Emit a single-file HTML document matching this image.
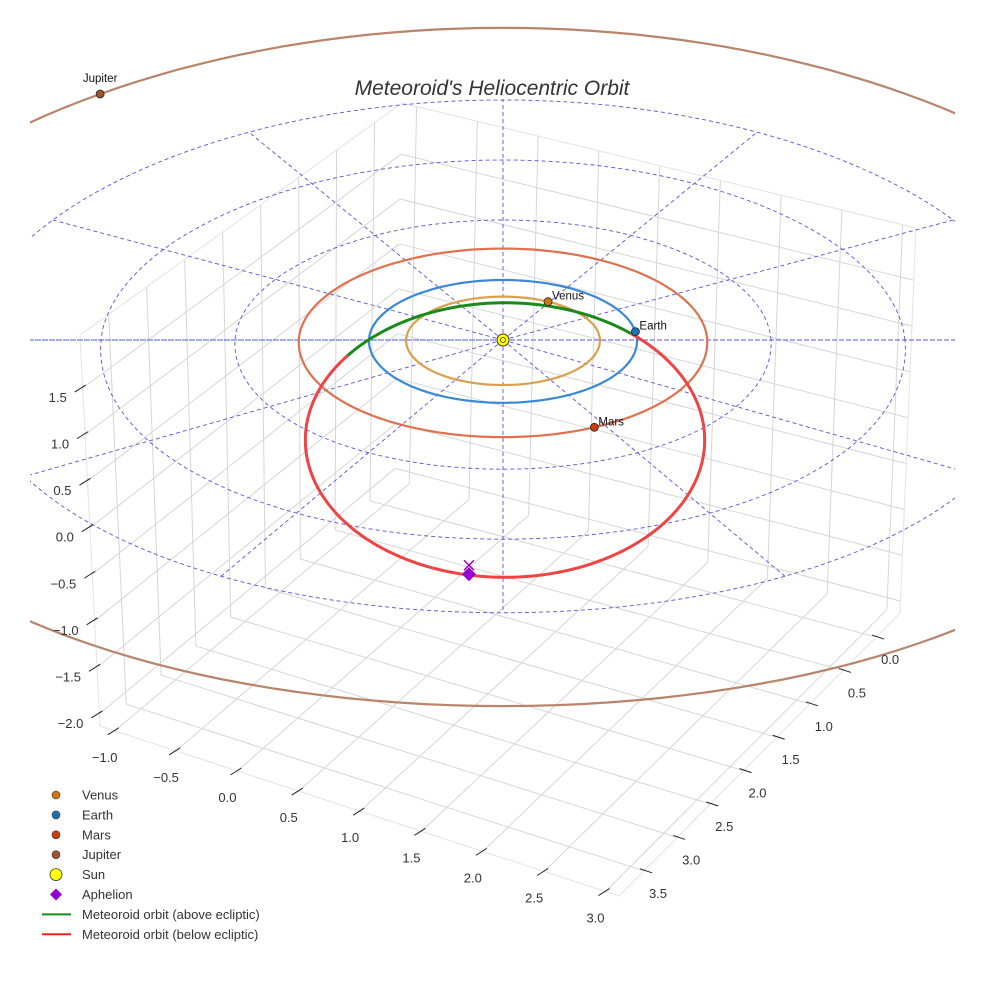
<!DOCTYPE html>
<html><head><meta charset="utf-8"><title>Meteoroid's Heliocentric Orbit</title>
<style>
html,body{margin:0;padding:0;background:#fff;}
svg{display:block;font-family:"Liberation Sans",sans-serif;}
</style></head>
<body>
<svg id="chart" width="984" height="984" viewBox="0 0 984 984" xmlns="http://www.w3.org/2000/svg">
<defs><clipPath id="clipArea"><rect x="30" y="18" width="925" height="930"/></clipPath></defs>
<g id="box"></g>
<g id="plane" clip-path="url(#clipArea)"></g>
<g id="orbits"></g>
<g id="ticks"></g>
<text x="492" y="95" text-anchor="middle" font-size="21" font-style="italic" fill="#333">Meteoroid's Heliocentric Orbit</text>
<g id="legend"></g>
</svg>
<script>
// ---- data ----
const xTicks = [-1.0, -0.5, 0.0, 0.5, 1.0, 1.5, 2.0, 2.5, 3.0];
const yTicks = [0.0, 0.5, 1.0, 1.5, 2.0, 2.5, 3.0, 3.5];
const zTicks = [-2.0, -1.5, -1.0, -0.5, 0.0, 0.5, 1.0, 1.5];
const xRange = [-1.12, 3.11];
const yRange = [-0.36, 3.877];
const zRange = [-2.13, 2.07];
const planetNames = ["Venus", "Earth", "Mars", "Jupiter"];
const planetRadii = [0.723, 1.0, 1.524, 5.203];
const planetAngles = [62, 8, -64, 128];
const planetColors = ["#cc7711", "#1f6fb4", "#c8400e", "#a0522d"];
const orbitColors = ["#d9a04e", "#3a88d8", "#e0714e", "#b8846a"];
const ringRadii = [1, 2, 3, 4];
const spokeAngles = [0, 30, 60, 90, 120, 150, 180, 210, 240, 270, 300, 330];
const meteoroidCenter = [0.015, -1.64];
const meteoroidAxes = [1.49, 2.25];
const nodeAngles = [51, 142];
const aphelion = [-0.254, -3.84];

const NS = "http://www.w3.org/2000/svg";
function mk(parent, tag, attrs){const e=document.createElementNS(NS,tag);for(const k in attrs)e.setAttribute(k,attrs[k]);parent.appendChild(e);return e;}
function lerp(a,b,t){return [a[0]+(b[0]-a[0])*t,a[1]+(b[1]-a[1])*t];}

// ---- box geometry (screen corners) ----
const Bb=[395,480], Lb=[100,726], Fb=[619,896], Rb=[900,613];
const Bt=[402,103], Lt=[80,335], Rt=[916,228];
function floorPt(x,y){const u=(x-xRange[0])/(xRange[1]-xRange[0]), v=(y-yRange[0])/(yRange[1]-yRange[0]);
  return [Bb[0]*(1-u)*(1-v)+Rb[0]*u*(1-v)+Lb[0]*(1-u)*v+Fb[0]*u*v, Bb[1]*(1-u)*(1-v)+Rb[1]*u*(1-v)+Lb[1]*(1-u)*v+Fb[1]*u*v];}
function zt(z){return (z-zRange[0])/(zRange[1]-zRange[0]);}
function leftPane(y,z){const s=(y-yRange[0])/(yRange[1]-yRange[0]);return lerp(lerp(Bb,Lb,s),lerp(Bt,Lt,s),zt(z));}
function rightPane(x,z){const s=(x-xRange[0])/(xRange[1]-xRange[0]);return lerp(lerp(Bb,Rb,s),lerp(Bt,Rt,s),zt(z));}

const box=document.getElementById('box');
function gl(p,q,name,col,w){const l=mk(box,'line',{x1:p[0],y1:p[1],x2:q[0],y2:q[1],stroke:col||'#d6d6d6','stroke-width':w||1});
  
  }
xTicks.forEach(x=>{gl(floorPt(x,yRange[0]),floorPt(x,yRange[1]),'floor-grid-x');gl(rightPane(x,zRange[0]),rightPane(x,zRange[1]),'pane-grid-x');});
yTicks.forEach(y=>{gl(floorPt(xRange[0],y),floorPt(xRange[1],y),'floor-grid-y');gl(leftPane(y,zRange[0]),leftPane(y,zRange[1]),'pane-grid-y');});
zTicks.forEach(z=>{gl(leftPane(yRange[1],z),leftPane(yRange[0],z),'pane-grid-z');gl(rightPane(xRange[0],z),rightPane(xRange[1],z),'pane-grid-z');});
[[Lb,Fb],[Fb,Rb],[Lb,Lt],[Rb,Rt],[Lt,Bt],[Bt,Rt]].forEach(e=>gl(e[0],e[1],'box-edge','#e3e3e3',1));

// ---- ticks ----
const tk=document.getElementById('ticks');
function tickText(x,y,s,name,anchor){const t=mk(tk,'text',{x:x,y:y,'font-size':13,fill:'#333','text-anchor':anchor||'middle'});t.textContent=s;
  
  }
function fmt(v){return (v<0?'\u2212':'')+Math.abs(v).toFixed(1);}
xTicks.forEach(x=>{const p=floorPt(x,yRange[1]);mk(tk,'line',{x1:p[0]+4,y1:p[1]-3,x2:p[0]-7,y2:p[1]+4,stroke:'#222','stroke-width':1});tickText(p[0]-10,p[1]+31,fmt(x),'x-tick-label');});
yTicks.forEach(y=>{const p=floorPt(xRange[1],y);mk(tk,'line',{x1:p[0]-4,y1:p[1]-2,x2:p[0]+8,y2:p[1]+2,stroke:'#222','stroke-width':1});tickText(p[0]+14,p[1]+27,fmt(y),'y-tick-label');});
zTicks.forEach(z=>{const p=leftPane(yRange[1],z);mk(tk,'line',{x1:p[0]+3,y1:p[1]-3,x2:p[0]-8,y2:p[1]+4,stroke:'#222','stroke-width':1});tickText(p[0]-16,p[1]+14,fmt(z),'z-tick-label','end');});

// ---- ecliptic projection ----
const SX=503, SY=340;
function proj(r,deg){const a=deg*Math.PI/180,s=Math.sin(a);const sy=s>0?60:(61+1.8*r);const f=1-0.015*r*s;return [SX+134*f*r*Math.cos(a), SY-sy*r*s];}
function ringPath(r){let d='';for(let a=0;a<=360;a+=2){const p=proj(r,a);d+=(a?'L':'M')+p[0].toFixed(1)+' '+p[1].toFixed(1);}return d+'Z';}
const plane=document.getElementById('plane');
ringRadii.forEach(r=>{const e=mk(plane,'path',{d:ringPath(r),fill:'none',stroke:'#5555dd','stroke-width':0.9,'stroke-dasharray':'4 3'});
  
  });
spokeAngles.forEach(a=>{const p=proj(ringRadii[ringRadii.length-1],a);const e=mk(plane,'line',{x1:SX,y1:SY,x2:p[0],y2:p[1],stroke:'#5555dd','stroke-width':0.9,'stroke-dasharray':'4 3'});
  
  });
// horizontal spoke spans full width
{const e=mk(plane,'line',{x1:0,y1:SY,x2:984,y2:SY,stroke:'#5555dd','stroke-width':0.9,'stroke-dasharray':'4 3'});
 
 }
// Jupiter orbit (clipped)
const jo=mk(plane,'path',{d:ringPath(planetRadii[3]),fill:'none',stroke:orbitColors[3],'stroke-width':2.2});



const orb=document.getElementById('orbits');
for(let i=0;i<3;i++){const o=mk(orb,'path',{d:ringPath(planetRadii[i]),fill:'none',stroke:orbitColors[i],'stroke-width':2.2});
  
  }

// meteoroid orbit
function mPt(deg){const a=deg*Math.PI/180;const u=meteoroidCenter[0]+meteoroidAxes[0]*Math.cos(a), v=meteoroidCenter[1]+meteoroidAxes[1]*Math.sin(a);return [SX+134*u, SY-61*v];}
let gd='',rd='';
for(let a=nodeAngles[0];a<=nodeAngles[1];a+=1){const p=mPt(a);gd+=(gd?'L':'M')+p[0].toFixed(1)+' '+p[1].toFixed(1);}
for(let a=nodeAngles[1];a<=nodeAngles[0]+360;a+=1){const p=mPt(a);rd+=(rd?'L':'M')+p[0].toFixed(1)+' '+p[1].toFixed(1);}
const mr=mk(orb,'path',{d:rd,fill:'none',stroke:'#ee4444','stroke-width':3});


const mg=mk(orb,'path',{d:gd,fill:'none',stroke:'#1a8a1a','stroke-width':3});



// aphelion
{const p=[SX+134*aphelion[0], SY-61*aphelion[1]];
 const ax=mk(orb,'path',{d:`M${p[0]-5} ${p[1]-14}L${p[0]+5} ${p[1]-4}M${p[0]+5} ${p[1]-14}L${p[0]-5} ${p[1]-4}`,stroke:'#9400d3','stroke-width':1.5,fill:'none'});
 
 
 const ad=mk(orb,'path',{d:`M${p[0]} ${p[1]-7}L${p[0]+7} ${p[1]}L${p[0]} ${p[1]+7}L${p[0]-7} ${p[1]}Z`,fill:'#9400d3'});
 
 }

// sun
{const s=mk(orb,'circle',{cx:SX,cy:SY,r:6,fill:'#ffff00',stroke:'#333','stroke-width':1});
 
 
 mk(orb,'circle',{cx:SX,cy:SY,r:2.5,fill:'none',stroke:'#333','stroke-width':0.8});}

// planets
for(let i=0;i<4;i++){const p=proj(planetRadii[i],planetAngles[i]);
  const c=mk(orb,'circle',{cx:p[0],cy:p[1],r:4,fill:planetColors[i],stroke:'#222','stroke-width':0.8});
  
  
  const t=mk(orb,'text',{x:i===3?p[0]:p[0]+4,y:i===3?p[1]-12:p[1]-2,'font-size':11.5,fill:'#111','text-anchor':i===3?'middle':'start'});
  t.textContent=planetNames[i];
  
  }

// legend
const lg=document.getElementById('legend');
const legendItems=[["Venus","dot",planetColors[0]],["Earth","dot",planetColors[1]],["Mars","dot",planetColors[2]],["Jupiter","dot",planetColors[3]],["Sun","sun","#ffff00"],["Aphelion","diamond","#9400d3"],["Meteoroid orbit (above ecliptic)","line","#1a8a1a"],["Meteoroid orbit (below ecliptic)","line","#ee2020"]];
legendItems.forEach((it,i)=>{const y=795+i*19.9;const g=mk(lg,'g',{});
  
  
  if(it[1]==='dot')mk(g,'circle',{cx:56,cy:y,r:4,fill:it[2],stroke:'#333','stroke-width':0.6});
  else if(it[1]==='sun')mk(g,'circle',{cx:56,cy:y,r:6,fill:it[2],stroke:'#333','stroke-width':0.8});
  else if(it[1]==='diamond')mk(g,'path',{d:`M56 ${y-6}L62 ${y}L56 ${y+6}L50 ${y}Z`,fill:it[2]});
  else mk(g,'line',{x1:42,y1:y,x2:71,y2:y,stroke:it[2],'stroke-width':2});
  const t=mk(g,'text',{x:82,y:y+4.5,'font-size':13,fill:'#333'});t.textContent=it[0];});
</script>
</body></html>
